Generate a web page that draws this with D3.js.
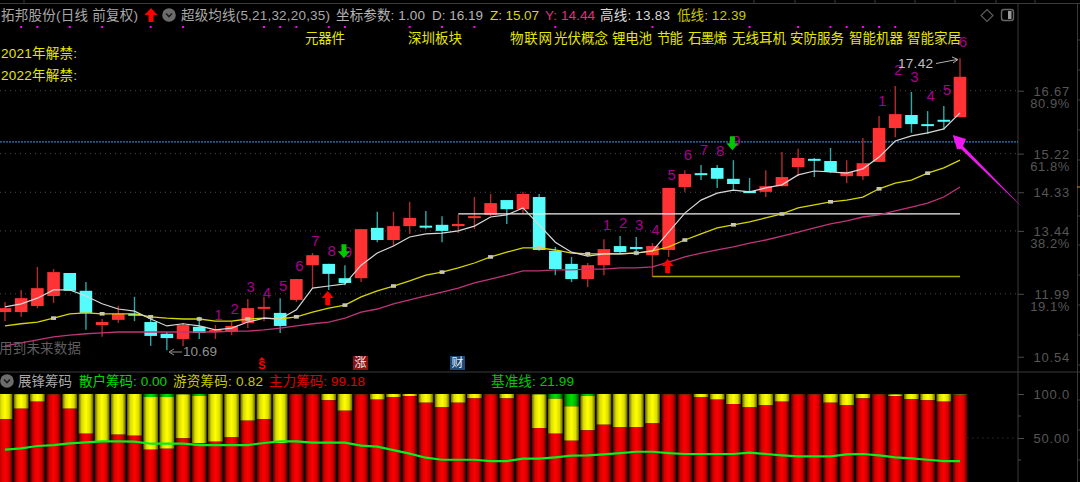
<!DOCTYPE html>
<html><head><meta charset="utf-8">
<script src="https://cdn.jsdelivr.net/npm/d3@7"></script>
<style>html,body{margin:0;padding:0;background:#000;overflow:hidden}svg{display:block}
text{font-family:"Liberation Sans","Noto Sans CJK SC",sans-serif}</style></head><body>
<svg id="c" width="1080" height="482"></svg>
<script>
// daily candles, index is the trading day
const open = [11.57,11.57,11.71,11.94,12.47,12.06,11.27,11.39,11.53,11.34,11.07,10.95,11.23,11.12,11.11,11.32,11.67,11.55,11.85,12.65,12.68,12.35,12.35,13.51,13.23,13.55,13.56,13.58,13.55,13.74,13.81,14.15,13.94,14.22,12.98,12.68,12.33,12.65,13.09,13.07,12.88,13.00,14.45,14.77,14.89,14.64,14.36,14.34,14.47,14.91,15.10,15.05,14.70,14.70,15.03,15.81,16.11,15.90,16.00,16.06];
const high = [11.80,12.08,12.61,12.56,12.47,12.26,11.41,11.71,11.92,11.46,11.11,11.32,11.46,11.27,11.34,11.87,11.92,11.89,12.33,12.93,12.68,12.65,13.48,13.88,13.88,14.11,13.90,13.78,13.81,14.22,14.29,14.15,14.34,14.29,13.07,12.84,12.70,13.25,13.32,13.30,13.16,14.43,14.84,14.96,14.96,15.07,14.66,14.84,15.26,15.33,15.12,15.35,15.07,15.58,16.09,16.78,16.64,16.20,16.32,17.42];
const low = [11.36,11.46,11.66,11.78,12.06,11.16,11.00,11.32,11.36,10.79,10.69,10.79,10.95,10.95,11.04,11.20,11.36,11.09,11.80,12.12,12.08,12.19,12.26,13.18,13.09,13.37,13.48,13.18,13.39,13.48,13.78,13.60,13.85,12.98,12.42,12.26,12.15,12.42,12.91,12.88,12.38,12.84,14.34,14.61,14.43,14.38,14.31,14.22,14.47,14.70,14.68,14.77,14.54,14.61,15.03,15.60,15.70,15.67,15.77,16.06];
const close = [11.66,11.89,12.12,12.49,12.06,11.55,11.34,11.53,11.50,11.02,10.97,11.27,11.09,11.16,11.25,11.66,11.69,11.25,12.33,12.88,12.45,12.24,13.48,13.23,13.55,13.74,13.54,13.44,13.60,13.78,14.08,13.94,14.29,13.00,12.56,12.33,12.65,13.02,12.95,13.02,13.09,14.43,14.75,14.75,14.64,14.52,14.31,14.47,14.68,15.12,15.07,14.80,14.80,15.00,15.81,16.13,15.90,15.88,15.97,16.99];
const maD = [11.69,11.76,11.89,12.08,12.08,11.94,11.76,11.64,11.59,11.41,11.25,11.30,11.25,11.16,11.20,11.34,11.43,11.41,11.62,12.12,12.17,12.22,12.65,12.93,13.09,13.30,13.37,13.39,13.44,13.55,13.76,13.81,13.97,13.58,13.18,12.95,12.86,12.91,12.91,12.93,12.98,13.41,13.85,14.15,14.31,14.38,14.34,14.43,14.50,14.73,14.82,14.80,14.77,14.87,15.14,15.51,15.63,15.70,15.79,16.16];
const maZ = [11.25,11.30,11.34,11.43,11.53,11.55,11.53,11.53,11.53,11.46,11.43,11.41,11.41,11.36,11.36,11.41,11.43,11.41,11.46,11.57,11.66,11.73,11.92,12.06,12.17,12.29,12.42,12.49,12.59,12.70,12.84,12.95,13.05,13.05,13.00,12.93,12.91,12.91,12.91,12.93,12.98,13.07,13.23,13.37,13.51,13.58,13.65,13.74,13.83,13.97,14.04,14.11,14.15,14.22,14.41,14.54,14.61,14.77,14.89,15.07];
const maY = [10.79,10.86,10.93,11.00,11.04,11.07,11.09,11.11,11.11,11.11,11.11,11.11,11.11,11.11,11.13,11.13,11.16,11.20,11.25,11.30,11.34,11.43,11.57,11.64,11.76,11.85,11.94,12.03,12.12,12.24,12.33,12.42,12.52,12.52,12.54,12.54,12.56,12.56,12.59,12.59,12.61,12.72,12.84,12.93,13.00,13.07,13.16,13.23,13.32,13.41,13.51,13.60,13.67,13.76,13.81,13.90,13.99,14.08,14.22,14.45];
const highLine = 13.83, lowLine = 12.39, blueLine = 15.49;
const priceTicks = [16.67,15.22,14.33,13.44,11.99,10.54];
const pctTicks = ["80.9%","61.8%","","38.2%","19.1%",""];
// chip panel: share held by each group, the remainder of 100 is the middle band
const chipMain = [71.6,83.3,91.3,99.5,83.3,54.9,45,53.8,52.6,36.7,37.8,49.6,44,45.8,50.7,69.7,71.6,44.3,99.5,99.5,92.8,81,99.5,93.6,96.6,97.7,90.1,84.8,90.1,95,99.5,95,99.5,61.3,54.9,46.9,58.7,65.1,62.5,62.5,66.6,99.5,99.5,96.6,93.6,88.6,84.8,87.5,91.3,99.5,99.5,90.1,87.5,95,99.5,97.7,94,92.8,91.3,99.18];
const chipRetail = [0,0.2,0,0.5,0,0,0,0,0,3.4,3.4,0.5,2,0,0,0,0,0,0.5,0.5,0,0,0.5,0,0,0,0,0,0,0,0.5,0,0.5,0.5,5.3,14,2.3,0,0,0,0,0.5,0.5,0,0,0,0,0,0,0.5,0.5,0,0,0,0.5,0.5,0,0,0,0.5];
const chipBase = [36.7,38.2,40.9,42,43.9,45,46.2,46.2,45.8,43.5,43.5,43.5,42,42,42,42,44.3,46.2,46.2,44.7,44.7,44.7,41.3,40.1,36.3,32.2,27.6,25.3,25.3,25.3,23.8,23.8,26.5,26.5,28,29.9,30.3,31.4,32.9,34.4,34.4,32.9,31.8,31.8,31.8,31.8,33.3,31.8,30.3,29.1,29.1,29.1,31.4,31.8,30.3,28,26.9,25.3,23.8,23.8];
const chipTicks = [100,50];
const chipTickText = ["100.0","50.00"];
const tdCounts = ["1","2","3","4","5","6","7","8","9","1","2","3","4","5","6","7","8","9","1","2","3","4","5","6"];
const tdDays = [13,14,15,16,17,18,19,20,21,37,38,39,40,41,42,43,44,45,54,55,56,57,58,59];
const tdLift = [9,12,11,3,11,12,11,12,12,13,12,11,12,12,14,14,13,18,14,15,14,14,15,15];
const upDays = [20,41], downDays = [21,45];
const signalDays = [1,2,4,6,9,11,16,17,18,20,21,25,27,29,34,40,46,49,51,52,53,54,55];
const sectors = ["元器件","深圳板块","物联网","光伏概念","锂电池","节能","石墨烯","无线耳机","安防服务","智能机器","智能家居"];
const sectorPos = [[305,40],[408,54],[510,42],[554,54],[612,40],[657,26],[688,39],[732,54],[790,54],[849,54],[907,54]];

const svg = d3.select("#c");
const n = open.length;
const x = d3.scaleLinear().domain([0,n-1]).range([5,960]);
const y = d3.scaleLinear().domain([18.76,10.54]).range([0,356.75]);
const yc = d3.scaleLinear().domain([0,100]).range([482,394]);
const defs = svg.append("defs");
function grad(id,e,m,c){const g=defs.append("linearGradient").attr("id",id);
  [[0,e],[.22,m],[.5,c],[.78,m],[1,e]].forEach(s=>g.append("stop").attr("offset",s[0]).attr("stop-color",s[1]));}
grad("gr","#480000","#d00000","#ff0000");
grad("gy","#606000","#dcdc00","#ffff00");
grad("gg","#004c00","#00b000","#00e000");
function label(t,px,py,w,col,size,anchor){
  const s=svg.append("text").text(t).attr("x",px).attr("y",py).attr("fill",col)
    .attr("font-size",size||13.5).attr("dominant-baseline","middle");
  if(w){s.attr("textLength",w).attr("lengthAdjust","spacing");}
  if(anchor)s.attr("text-anchor",anchor);
  return s;
}
const grid="#4a4a4a";
// frame
svg.append("path").attr("d","M0 3.5H1080M1018 3.5V482M1077.5 3.5V482M0 372H1080").attr("stroke","#3a3a3a").attr("fill","none");
[754,795,835,875,915,955,996,1035,24].forEach(t=>svg.append("line").attr("x1",t).attr("x2",t).attr("y1",0).attr("y2",3).attr("stroke","#3a3a3a"));
// price grid
svg.selectAll(".g").data(priceTicks.slice(0,5)).join("line").attr("x1",0).attr("x2",1018)
  .attr("y1",d=>y(d)).attr("y2",d=>y(d)).attr("stroke",grid).attr("stroke-dasharray","1 4");
svg.append("line").attr("x1",0).attr("x2",1018).attr("y1",y(blueLine)).attr("y2",y(blueLine))
  .attr("stroke","#2e7fc0").attr("stroke-dasharray","2 1").attr("stroke-width",1.2);
// price axis
const axis=svg.append("g").attr("transform","translate(1018,0)")
  .call(d3.axisRight(y).tickValues(priceTicks).tickSize(6).tickFormat(d3.format(".2f")));
axis.select(".domain").remove();
axis.selectAll("line").attr("stroke","#4a4a4a");
axis.selectAll("text").attr("fill","#565656").attr("font-size",13).attr("x",52).attr("text-anchor","end").style("letter-spacing","0.8px").attr("dy","0.36em");
priceTicks.forEach((t,i)=>{if(pctTicks[i])label(pctTicks[i],1070,y(t)+13.5,0,"#565656",13,"end").style("letter-spacing","0.6px");});
// candles
const cw=12.6;
const days=d3.range(n);
const isUp=i=>close[i]>=open[i];
svg.selectAll(".w").data(days).join("line").attr("x1",i=>x(i)).attr("x2",i=>x(i))
  .attr("y1",i=>y(high[i])).attr("y2",i=>y(low[i]))
  .attr("stroke",i=>isUp(i)?"#b42a2a":"#2ea8a8").attr("stroke-width",1.4);
svg.selectAll(".b").data(days).join("rect").attr("x",i=>x(i)-cw/2).attr("width",cw)
  .attr("y",i=>y(Math.max(open[i],close[i])))
  .attr("height",i=>Math.max(2,Math.abs(y(open[i])-y(close[i]))))
  .attr("fill",i=>isUp(i)?"#ff3333":"#54fcfc");
// high and low reference lines
svg.append("line").attr("x1",x(28)).attr("x2",x(59)).attr("y1",y(highLine)).attr("y2",y(highLine)).attr("stroke","#f0f0f0").attr("stroke-width",1.2);
svg.append("line").attr("x1",x(40)).attr("x2",x(59)).attr("y1",y(lowLine)).attr("y2",y(lowLine)).attr("stroke","#a8a800").attr("stroke-width",1.4);
// moving averages
const line=d3.line().x((d,i)=>x(i)).y(d=>y(d));
svg.append("path").attr("d",line(maY)).attr("fill","none").attr("stroke","#c0347a").attr("stroke-width",1.3);
svg.append("path").attr("d",line(maZ)).attr("fill","none").attr("stroke","#d6d600").attr("stroke-width",1.3);
svg.append("path").attr("d",line(maD)).attr("fill","none").attr("stroke","#d8d8d8").attr("stroke-width",1.2);
svg.selectAll(".m").data(days.filter(i=>i>=3&&i%3===0)).join("rect")
  .attr("x",i=>x(i)-2.5).attr("y",i=>y(maZ[i])-1.8).attr("width",5).attr("height",3.6).attr("fill","#c8c8b0");
// TD counts
svg.selectAll(".td").data(tdDays).join("text").text((d,i)=>tdCounts[i])
  .attr("x",d=>x(d)+3).attr("y",(d,i)=>y(high[d])-tdLift[i]).attr("text-anchor","middle").attr("dominant-baseline","middle")
  .attr("fill","#a8008e").attr("font-size",15);
// arrows
const up="M0 -7L6 0H2.5V7H-2.5V0H-6Z", down="M0 7L6 0H2.5V-7H-2.5V0H-6Z";
upDays.forEach(d=>svg.append("path").attr("d",up).attr("fill","#ff0000").attr("transform",`translate(${x(d)-1},${y(low[d])+(d===20?8:9)})`));
downDays.forEach(d=>svg.append("path").attr("d",down).attr("fill","#00c800").attr("transform",`translate(${x(d)-1},${y(high[d])-(d===21?14:17)})`));
// extremes
label("10.69",183,352,34,"#909090",13.5);
svg.append("path").attr("d","M182 352H170M174 349L169 352L174 355").attr("stroke","#909090").attr("fill","none");
label("17.42",898,64,35,"#c0c0c0",13.5);
svg.append("path").attr("d","M936 63.5L957 59.5M952 57L958 59.5L953 63").attr("stroke","#b0b0b0").attr("fill","none");
label("用到未来数据",-1,349,82,"#5e5e5e",13.5);
// event markers
svg.append("path").attr("d","M262 357L265.5 360.5H258.5Z").attr("fill","#ff0000");
label("S",262,366,0,"#ff0000",11,"middle").attr("font-weight","bold");
svg.append("rect").attr("x",353).attr("y",356).attr("width",15).attr("height",14).attr("fill","#8a1212");
label("涨",360.5,363.5,0,"#f0e8e8",12,"middle");
svg.append("rect").attr("x",450).attr("y",356).attr("width",15).attr("height",14).attr("fill","#1c4a78");
label("财",457.5,363.5,0,"#e8eef4",12,"middle");
// pointer
svg.append("path").attr("d","M952.7 135L966 139L963 146L1022 207L961 149L957 149Z").attr("fill","#f018f0");
// top status
label("拓邦股份(日线 前复权)",1,16,137,"#a8a8a8");
svg.append("path").attr("d","M151 8L157.5 15H153.5V22H148.5V15H144.5Z").attr("fill","#ff0000");
function chev(cx,cy){svg.append("circle").attr("cx",cx).attr("cy",cy).attr("r",6.8).attr("fill","#6c6c6c");
  svg.append("path").attr("d",`M${cx-3} ${cy-1.5}L${cx} ${cy+1.5}L${cx+3} ${cy-1.5}`).attr("fill","none").attr("stroke","#1c1c1c").attr("stroke-width",1.6);}
chev(169,15);
label("超级均线(5,21,32,20,35)",181,16,149,"#a8a8a8");
label("坐标参数: 1.00",336,16,89,"#b4b4b4");
label("D: 16.19",432,16,51,"#b4b4b4");
label("Z: 15.07",490,16,49,"#d8d800");
label("Y: 14.44",545,16,50,"#e0307c");
label("高线: 13.83",600,16,70,"#d8d8d8");
label("低线: 12.39",677,16,69,"#c8c800");
svg.append("path").attr("d","M987 9.5L993 15.5L987 21.5L981 15.5Z").attr("fill","none").attr("stroke","#5a5a5a").attr("stroke-width",1.2);
svg.append("rect").attr("x",1001.5).attr("y",9.5).attr("width",12).attr("height",11).attr("rx",2.5).attr("fill","none").attr("stroke","#666").attr("stroke-width",1.4);
svg.append("rect").attr("x",1008).attr("y",11).attr("width",3.5).attr("height",8).attr("fill","#9a9a9a");
svg.selectAll(".sig").data(signalDays).join("rect").attr("x",d=>x(d)-1).attr("y",26).attr("width",2).attr("height",2).attr("fill","#ff00ff");
sectors.forEach((s,i)=>label(s,sectorPos[i][0],39,sectorPos[i][1],"#e6e600"));
label("2021年解禁:",1,54,76,"#e6e600");
label("2022年解禁:",1,76,76,"#e6e600");
// chip panel
chev(7,381);
label("展锋筹码",18,382,54,"#a8a8a8");
label("散户筹码: 0.00",79,382,88,"#00d800");
label("游资筹码: 0.82",173,382,90,"#c8c800");
label("主力筹码: 99.18",269,382,96,"#e00000");
label("基准线: 21.99",491,382,83,"#00c800");
const bw=14.8;
const barGroup=svg.append("g");
days.forEach(i=>{
  const m=chipMain[i],r=chipRetail[i];
  const g=barGroup.append("g");
  g.append("rect").attr("x",x(i)-bw/2).attr("width",bw).attr("y",yc(100)).attr("height",yc(100-r)-yc(100)).attr("fill","url(#gg)");
  g.append("rect").attr("x",x(i)-bw/2).attr("width",bw).attr("y",yc(100-r)).attr("height",yc(m)-yc(100-r)).attr("fill","url(#gy)");
  g.append("rect").attr("x",x(i)-bw/2).attr("width",bw).attr("y",yc(m)).attr("height",yc(0)-yc(m)).attr("fill","url(#gr)");
});
svg.append("path").attr("d",d3.line().x((d,i)=>x(i)).y(d=>yc(d))(chipBase)).attr("fill","none").attr("stroke","#00f020").attr("stroke-width",2.2);
const cAxis=svg.append("g").attr("transform","translate(1018,0)")
  .call(d3.axisRight(yc).tickValues(chipTicks).tickSize(6).tickFormat((d,i)=>chipTickText[i]));
cAxis.select(".domain").remove();
cAxis.selectAll("line").attr("stroke","#4a4a4a");
cAxis.selectAll("text").attr("fill","#565656").attr("font-size",13).attr("x",52).attr("text-anchor","end").style("letter-spacing","0.8px").attr("dy","0.36em");
svg.append("line").attr("x1",x(59)+bw/2).attr("x2",1018).attr("y1",yc(50)).attr("y2",yc(50)).attr("stroke",grid).attr("stroke-dasharray","1 4");
svg.append("line").attr("x1",1018).attr("x2",1021).attr("y1",416).attr("y2",416).attr("stroke","#4a4a4a");
svg.append("line").attr("x1",1018).attr("x2",1021).attr("y1",460).attr("y2",460).attr("stroke","#4a4a4a");
// right edge ruler
[40,70,100,130,160,216,245,275,305,335,365,400,430,460].forEach(t=>svg.append("line").attr("x1",1078).attr("x2",1080).attr("y1",t).attr("y2",t).attr("stroke","#3a3a3a"));
svg.append("line").attr("x1",1077).attr("x2",1080).attr("y1",187).attr("y2",187).attr("stroke","#d08a20");
</script></body></html>
